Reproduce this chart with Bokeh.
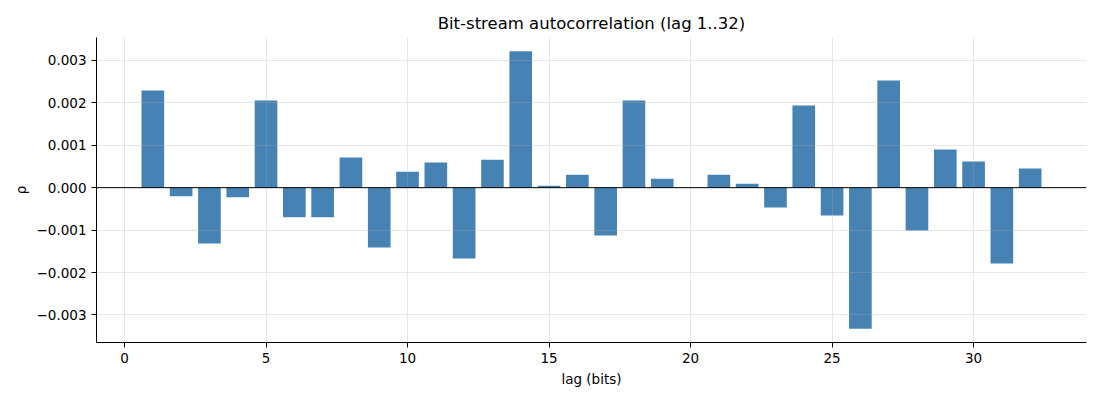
from bokeh.plotting import figure
from bokeh.models import ColumnDataSource, FixedTicker, CustomJSTickFormatter, Span, Range1d
from bokeh.embed import file_html
from bokeh.resources import INLINE

lags = list(range(1, 33))
rho = [0.00229, -0.000205, -0.001315, -0.000228, 0.002055, -0.00070, -0.00070, 0.000709,
       -0.001409, 0.000378, 0.000591, -0.001669, 0.000661, 0.003213, 0.000047, 0.000307,
       -0.001126, 0.002055, 0.000213, 0.0, 0.000307, 0.000094, -0.000465, 0.001937,
       -0.000654, -0.003323, 0.002528, -0.001008, 0.000898, 0.000614, -0.001787, 0.000449]
x_ticks = [0, 5, 10, 15, 20, 25, 30]
y_ticks = [-0.003, -0.002, -0.001, 0.0, 0.001, 0.002, 0.003]

FONT = "DejaVu Sans"

src = ColumnDataSource(dict(lag=lags, rho=rho))

p = figure(width=1090, height=390, output_backend="svg", toolbar_location=None,
           x_range=Range1d(-0.99, 33.99), y_range=Range1d(-0.00365, 0.00354),
           min_border_left=96, min_border_right=4, min_border_top=37, min_border_bottom=48)

p.title.text = "Bit-stream autocorrelation (lag 1..32)"
p.title.align = "center"
p.title.text_font = FONT
p.title.text_font_size = "16.5px"
p.title.text_font_style = "normal"
p.title.text_color = "black"

p.vbar(x="lag", top="rho", bottom=0, width=0.8, source=src,
       fill_color="#4682B4", line_color=None)

p.add_layout(Span(location=0, dimension="width", line_color="black", line_width=1))

p.outline_line_color = None
for ax in (p.xaxis[0], p.yaxis[0]):
    ax.axis_line_color = "black"
    ax.axis_line_width = 1
    ax.major_tick_line_color = "black"
    ax.major_tick_out = 5
    ax.major_tick_in = 0
    ax.minor_tick_line_color = None
    ax.major_label_text_font = FONT
    ax.major_label_text_font_size = "13.5px"
    ax.major_label_text_color = "black"
    ax.axis_label_text_font = FONT
    ax.axis_label_text_font_size = "13.5px"
    ax.axis_label_text_font_style = "normal"
    ax.axis_label_text_color = "black"

p.xaxis.ticker = FixedTicker(ticks=x_ticks)
p.yaxis.ticker = FixedTicker(ticks=y_ticks)
p.yaxis.formatter = CustomJSTickFormatter(code="return tick.toFixed(3).replace('-', '\u2212');")
p.xaxis.axis_label = "lag (bits)"
p.yaxis.axis_label = "ρ"

for g in (p.xgrid[0], p.ygrid[0]):
    g.grid_line_color = "#b0b0b0"
    g.grid_line_alpha = 0.3
    g.level = "guide"
p.xgrid.ticker = FixedTicker(ticks=x_ticks)
p.ygrid.ticker = FixedTicker(ticks=y_ticks)

open("out.html", "w").write(file_html(p, INLINE))
